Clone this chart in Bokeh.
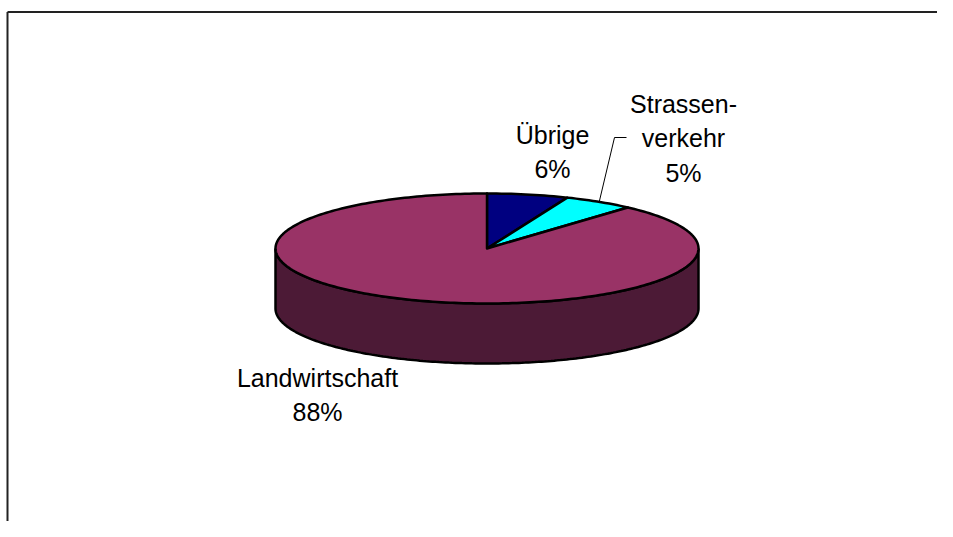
import numpy as np
from bokeh.plotting import figure
from bokeh.models import Range1d
from bokeh.core.properties import value
from bokeh.embed import file_html
from bokeh.resources import INLINE

# ---- data ----
categories = ["Übrige", "Strassenverkehr", "Landwirtschaft"]
shares = [6.2, 5.4, 88.4]
pct_labels = ["6%", "5%", "88%"]
name_lines = [["Übrige"], ["Strassen-", "verkehr"], ["Landwirtschaft"]]
colors = ["#000080", "#00FFFF", "#993366"]
side_color = "#4C1A36"

# ---- layout (image pixel coordinates, y downwards) ----
W, H = 937, 521
cx, cy, rx, ry, depth = 486.5, 248.0, 211.5, 55.0, 60.0
label_pos = [(552, 134), (683, 103), (317, 377)]  # baseline of first line
line_gap = 34.5
FONT = "Liberation Sans"
FS = "25px"

p = figure(width=W, height=H, output_backend="svg", toolbar_location=None,
           x_range=Range1d(0, W), y_range=Range1d(H, 0),
           min_border=0)
p.axis.visible = False
p.grid.visible = False
p.outline_line_color = None
p.background_fill_color = "white"

def ell(t):
    return cx + rx * np.sin(t), cy - ry * np.cos(t)

# side wall (front half of the cylinder)
tt = np.linspace(np.pi / 2, 3 * np.pi / 2, 200)
xs, ys = ell(tt)
side_x = list(xs) + list(xs[::-1])
side_y = list(ys) + list((ys + depth)[::-1])
p.patch(side_x, side_y, fill_color=side_color, line_color="black", line_width=2.5)

# top wedges
fr = np.array(shares) / sum(shares)
cum = np.concatenate([[0], np.cumsum(fr)]) * 2 * np.pi
wx, wy = [], []
for i in range(len(shares)):
    t = np.linspace(cum[i], cum[i + 1], max(int(300 * fr[i]), 8))
    ex, ey = ell(t)
    wx.append([cx] + list(ex) + [cx])
    wy.append([cy] + list(ey) + [cy])
p.patches(wx, wy, fill_color=colors, line_color="black", line_width=2.5,
          line_join="round")

# leader line for Strassenverkehr
mid = (cum[1] + cum[2]) / 2
lx, ly = ell(mid)
p.line([626, 614, lx], [137, 137, ly], line_color="black", line_width=1)

# labels
tx, ty, tt_ = [], [], []
for (x0, y0), lines, pc in zip(label_pos, name_lines, pct_labels):
    for k, s in enumerate(lines + [pc]):
        tx.append(x0)
        ty.append(y0 + k * line_gap)
        tt_.append(s)
p.text(x=tx, y=ty, text=tt_, text_font=value(FONT), text_font_size=FS,
       text_align="center", text_baseline="alphabetic", text_color="black")

# chart frame (partially visible)
p.line([7, W], [11.5, 11.5], line_color="#222222", line_width=2)
p.line([7, 7], [11.5, H], line_color="#222222", line_width=2)

open("out.html", "w").write(file_html(p, INLINE))
